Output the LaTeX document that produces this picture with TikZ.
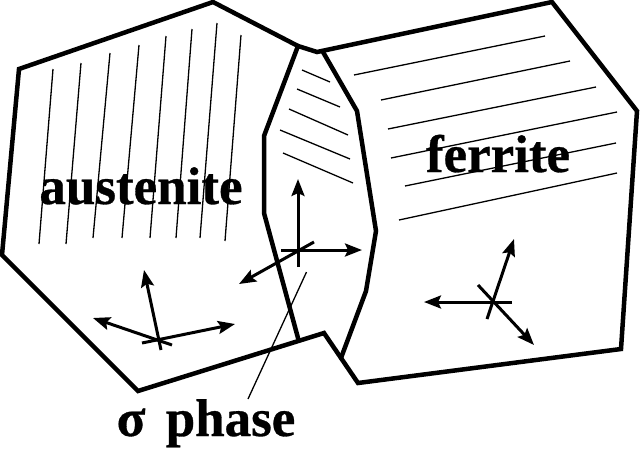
\documentclass[tikz,border=0pt]{standalone}
\usepackage{fontspec}
\setmainfont[BoldFeatures={FakeBold=0.6}]{Liberation Serif}
\usetikzlibrary{arrows.meta}
\tikzset{
  boundary/.style={line width=4.5pt,line join=miter,line cap=round},
  trace/.style={line width=1.3pt},
  axis/.style={line width=3pt,-{Stealth[length=17pt,width=13pt,inset=3pt]}},
  phase/.style={font=\bfseries\fontsize{53}{53}\selectfont,inner sep=0pt,anchor=base},
}
\begin{document}
\begin{tikzpicture}[x=1pt,y=-1pt]
\useasboundingbox (0,0) rectangle (640,448);
% grain outlines
\coordinate (a1) at (19,69);
\coordinate (a2) at (213,2);
\coordinate (a3) at (298,46);
\coordinate (a4) at (317,52);
\coordinate (f1) at (552,2);
\coordinate (f2) at (637,111);
\coordinate (f3) at (621,349);
\coordinate (f4) at (358,383);
\coordinate (f5) at (324,333);
\coordinate (a5) at (138,391);
\coordinate (a6) at (2,255);
\draw[boundary] (a3) -- (a2) -- (a1) -- (a6) -- (a5) -- (f5) -- (f4) -- (f3) -- (f2) -- (f1) -- (a4) -- (a3);
% sigma phase boundaries
\draw[boundary] (a3) -- (264,136) -- (264,213) -- (298,338);
\draw[boundary] (323,52) -- (357,111) -- (376,231) -- (366,291) -- (341,358);
% lamellae in austenite
\foreach \xa/\ya/\xb/\yb in {53/69/39/244, 81/63/66/244, 110/53/93/238, 139/45/122/238, 166/36/150/238, 192/29/176/238, 217/23/200/238, 241/35/225/241}
  \draw[trace] (\xa,\ya) -- (\xb,\yb);
% lamellae in the sigma phase
\foreach \xa/\ya/\xb/\yb in {302/70/330/82, 297/89/340/107, 289/109/348/135, 280/130/350/159, 283/153/353/183}
  \draw[trace] (\xa,\ya) -- (\xb,\yb);
% lamellae in ferrite
\foreach \xa/\ya/\xb/\yb in {354/75/545/36, 381/100/570/61, 388/129/596/87, 391/158/617/112, 405/186/616/143, 399/220/617/173}
  \draw[trace] (\xa,\ya) -- (\xb,\yb);
% crystal axes: each runs from a short tail through the origin to its tip
\foreach \xa/\ya/\xb/\yb in {
    161/350/144/270, 172/345/93/318, 142/343/235/324,
    298/267/298/179, 281/250/362/250, 314/242/239/284,
    487/319/514/239, 512/302/424/302, 478/285/534/345}
  \draw[axis] (\xa,\ya) -- (\xb,\yb);
% labels
\node[phase] (austenite) at (141,204) {austenite};
\node[phase] (ferrite) at (498,172) {ferrite};
\node[phase] (sigma) at (206,436) {σ\hspace{7pt} phase};
\coordinate (lead) at (306.5,272);
\draw[trace] (lead) -- (248,399);
\end{tikzpicture}
\end{document}
